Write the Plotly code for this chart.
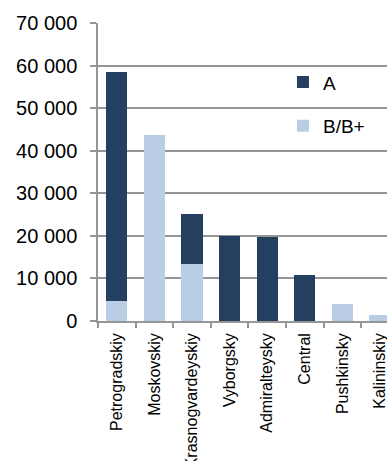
import plotly.graph_objects as go

# District names and dwelling counts per class
districts = ["Petrogradskiy", "Moskovskiy", "Krasnogvardeyskiy", "Vyborgsky",
             "Admiralteysky", "Central", "Pushkinsky", "Kalininskiy"]
class_a = [53800, 0, 11800, 20000, 19700, 10900, 0, 0]
class_b = [4700, 43700, 13300, 0, 0, 0, 3900, 1400]

y_ticks = [0, 10000, 20000, 30000, 40000, 50000, 60000, 70000]
y_tick_text = ["0", "10 000", "20 000", "30 000", "40 000", "50 000", "60 000", "70 000"]

DARK = "#253F60"
LIGHT = "#B9CDE5"
GRID = "#969696"
FONT = "Liberation Sans, Arial, sans-serif"

fig = go.Figure()
fig.add_trace(go.Bar(x=districts, y=class_b, name="B/B+", marker=dict(color=LIGHT, line=dict(width=0)),
                     legendgroup="b", legendrank=2))
fig.add_trace(go.Bar(x=districts, y=class_a, name="A", marker=dict(color=DARK, line=dict(width=0)),
                     legendgroup="a", legendrank=1))

fig.update_layout(
    width=387, height=461,
    margin=dict(l=98, r=0, t=23, b=140, autoexpand=False),
    barmode="stack", bargap=0.44,
    plot_bgcolor="white", paper_bgcolor="white",
    font=dict(family=FONT, color="black"),
    showlegend=True,
    legend=dict(x=0.64, y=0.865, xanchor="left", yanchor="top",
                traceorder="grouped", tracegroupgap=16,
                font=dict(size=19, family=FONT), bgcolor="rgba(0,0,0,0)",
                itemwidth=30),
)
fig.update_xaxes(
    range=[-0.5, 7.186], type="category",
    showline=True, linecolor=GRID, linewidth=1.5,
    ticks="outside", tickson="boundaries", ticklen=5, tickcolor=GRID, tickwidth=1.5,
    tickangle=-90, tickfont=dict(size=16, family=FONT), ticklabelstandoff=4,
    automargin=False, showgrid=False,
)
fig.update_yaxes(
    range=[0, 70000], tickvals=y_ticks, ticktext=y_tick_text,
    showline=True, linecolor=GRID, linewidth=1.5,
    showgrid=True, gridcolor=GRID, gridwidth=1.5,
    ticks="outside", ticklen=6, tickcolor=GRID, tickwidth=1.5,
    tickfont=dict(size=20, family=FONT), ticklabelstandoff=9,
    automargin=False, zeroline=False,
)

fig.write_html("out.html")
